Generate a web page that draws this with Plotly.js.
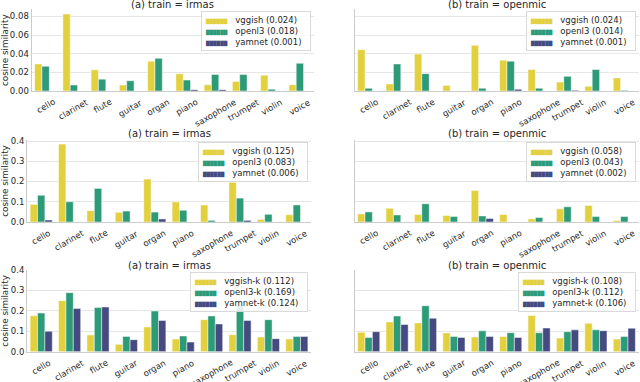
<!DOCTYPE html>
<html>
<head>
<meta charset="utf-8">
<script src="https://cdn.plot.ly/plotly-3.0.1.min.js"></script>
<style>
  html, body { margin: 0; padding: 0; background: #fff; }
  #myPlot { width: 640px; height: 382px; }
</style>
</head>
<body>
<div id="myPlot"></div>
<script>
// instruments on the x axis
var categories = ["cello", "clarinet", "flute", "guitar", "organ", "piano", "saxophone", "trumpet", "violin", "voice"];

var modelNames = ["vggish", "openl3", "yamnet"];
var modelNamesK = ["vggish-k", "openl3-k", "yamnet-k"];
var colors = ["#e3d03f", "#2d9a78", "#454a80"];

// row 1, (a) train = irmas
var r1aVggish = [0.029, 0.0825, 0.0227, 0.0064, 0.032, 0.0184, 0.0067, 0.0103, 0.017, 0.0067];
var r1aOpenl3 = [0.0265, 0.0064, 0.0127, 0.011, 0.035, 0.0117, 0.0177, 0.0177, 0.002, 0.0297];
var r1aYamnet = [0, 0, 0, 0, 0, 0.0014, 0.0014, 0, 0, 0];
var r1aMeans = [0.024, 0.018, 0.001];

// row 1, (b) train = openmic
var r1bVggish = [0.0443, 0.0075, 0.0396, 0.006, 0.049, 0.033, 0.023, 0.0096, 0.005, 0.014];
var r1bOpenl3 = [0.0029, 0.029, 0.0186, 0, 0.003, 0.032, 0.003, 0.0157, 0.023, 0.0007];
var r1bYamnet = [0, 0, 0, 0, 0, 0.0018, 0, 0.0007, 0, 0];
var r1bMeans = [0.024, 0.014, 0.001];

// row 2, (a) train = irmas
var r2aVggish = [0.087, 0.385, 0.056, 0.048, 0.212, 0.099, 0.084, 0.196, 0.013, 0.036];
var r2aOpenl3 = [0.132, 0.1, 0.166, 0.054, 0.049, 0.058, 0.008, 0.118, 0.038, 0.084];
var r2aYamnet = [0.01, 0, 0, 0, 0.015, 0, 0, 0.008, 0, 0];
var r2aMeans = [0.125, 0.083, 0.006];

// row 2, (b) train = openmic
var r2bVggish = [0.04, 0.068, 0.037, 0.032, 0.155, 0.037, 0.015, 0.065, 0.082, 0.007];
var r2bOpenl3 = [0.05, 0.035, 0.09, 0.027, 0.03, 0, 0.022, 0.075, 0.027, 0.027];
var r2bYamnet = [0, 0, 0, 0, 0.017, 0, 0, 0, 0, 0];
var r2bMeans = [0.058, 0.043, 0.002];

// row 3, (a) train = irmas
var r3aVggish = [0.176, 0.25, 0.082, 0.036, 0.121, 0.062, 0.157, 0.083, 0.072, 0.062];
var r3aOpenl3 = [0.189, 0.289, 0.216, 0.075, 0.199, 0.077, 0.175, 0.225, 0.157, 0.075];
var r3aYamnet = [0.1, 0.212, 0.219, 0.059, 0.153, 0.047, 0.136, 0.153, 0.064, 0.075];
var r3aMeans = [0.112, 0.169, 0.124];

// row 3, (b) train = openmic
var r3bVggish = [0.095, 0.146, 0.141, 0.092, 0.072, 0.075, 0.177, 0.067, 0.139, 0.062];
var r3bOpenl3 = [0.07, 0.175, 0.225, 0.075, 0.102, 0.093, 0.093, 0.098, 0.107, 0.075];
var r3bYamnet = [0.098, 0.133, 0.164, 0.07, 0.075, 0.07, 0.116, 0.107, 0.103, 0.115];
var r3bMeans = [0.108, 0.112, 0.106];

var panelTitles = ["(a) train = irmas", "(b) train = openmic"];

var panels = [
  {series: [r1aVggish, r1aOpenl3, r1aYamnet], names: modelNames, means: r1aMeans},
  {series: [r1bVggish, r1bOpenl3, r1bYamnet], names: modelNames, means: r1bMeans},
  {series: [r2aVggish, r2aOpenl3, r2aYamnet], names: modelNames, means: r2aMeans},
  {series: [r2bVggish, r2bOpenl3, r2bYamnet], names: modelNames, means: r2bMeans},
  {series: [r3aVggish, r3aOpenl3, r3aYamnet], names: modelNamesK, means: r3aMeans},
  {series: [r3bVggish, r3bOpenl3, r3bYamnet], names: modelNamesK, means: r3bMeans}
];

// layout in pixels (640 x 382), turned into paper fractions below
var W = 640, H = 382;
var colX = [[31.5, 314], [354.5, 638.5]];     // row 1 left column
var colX23 = [27, 311];                        // rows 2,3 left column
var rowY = [[9.4, 91], [140, 222], [270, 351.7]];
var yRanges = [[0, 0.0875], [0, 0.405], [0, 0.4]];
var yTicks = [{dtick: 0.02, fmt: ".2f"}, {dtick: 0.1, fmt: ".1f"}, {dtick: 0.1, fmt: ".1f"}];
var titleY = [5, 133, 265];

var textColor = "#262626";
var fontFam = "DejaVu Sans, sans-serif";

var data = [];
var layout = {
  width: W, height: H,
  margin: {l: 0, r: 0, t: 0, b: 0},
  paper_bgcolor: "#fff", plot_bgcolor: "#fff",
  font: {family: fontFam, color: textColor, size: 8.5},
  barmode: "group", bargap: 0.22, bargroupgap: 0,
  showlegend: false,
  annotations: []
};

for (var p = 0; p < panels.length; p++) {
  var row = Math.floor(p / 2), col = p % 2;
  var n = p + 1;
  var xa = "x" + (n === 1 ? "" : n), ya = "y" + (n === 1 ? "" : n);
  var xKey = "xaxis" + (n === 1 ? "" : n), yKey = "yaxis" + (n === 1 ? "" : n);

  for (var s = 0; s < 3; s++) {
    data.push({
      type: "bar", x: categories, y: panels[p].series[s],
      name: panels[p].names[s], xaxis: xa, yaxis: ya,
      marker: {color: colors[s], line: {color: "rgba(255,255,255,0.6)", width: 0.8}},
      hoverinfo: "x+y+name"
    });
  }

  var xs = (col === 0 && row > 0) ? colX23 : colX[col];
  layout[xKey] = {
    domain: [xs[0] / W, xs[1] / W], anchor: ya,
    range: [-0.5, categories.length - 0.5],
    showgrid: false, showticklabels: false, ticks: "",
    showline: true, linecolor: "#cccccc", linewidth: 1, fixedrange: true
  };
  var yax = {
    domain: [1 - rowY[row][1] / H, 1 - rowY[row][0] / H], anchor: xa,
    range: yRanges[row], dtick: yTicks[row].dtick, tick0: 0, tickformat: yTicks[row].fmt,
    showgrid: true, gridcolor: "#e6e6e6", gridwidth: 1, zeroline: false,
    showline: true, linecolor: "#cccccc", linewidth: 1, ticks: "",
    tickfont: {size: 8.5, color: textColor}, fixedrange: true
  };
  if (col === 0) {
    yax.title = {text: "cosine similarity", font: {size: 8.8, color: textColor}, standoff: 1};
  } else {
    yax.showticklabels = false;
    yax.matches = "y" + (n - 1 === 1 ? "" : n - 1);
  }
  layout[yKey] = yax;

  // panel title
  layout.annotations.push({
    text: panelTitles[col], xref: "paper", yref: "paper",
    x: (xs[0] + xs[1]) / 2 / W, y: 1 - titleY[row] / H,
    xanchor: "center", yanchor: "middle", showarrow: false,
    font: {size: 10, color: textColor}
  });

  // rotated category labels, centred under each group like matplotlib
  for (var c = 0; c < categories.length; c++) {
    layout.annotations.push({
      text: categories[c], xref: xa, yref: ya + " domain",
      x: categories[c], y: 0, xanchor: "center", yanchor: "top",
      yshift: -3, textangle: -30, showarrow: false,
      font: {size: 8.5, color: textColor}
    });
  }

  // legend box
  var lines = [];
  for (var s2 = 0; s2 < 3; s2++) {
    lines.push('<span style="font-size:4.6px;color:' + colors[s2] + '">\u2588\u2588\u2588\u2588\u2588\u2588</span>' +
      "\u00a0\u00a0\u00a0" + panels[p].names[s2] + " (" + panels[p].means[s2].toFixed(3) + ")\u00a0\u00a0");
  }
  layout.annotations.push({
    text: lines.join("<br>"), xref: xa + " domain", yref: ya + " domain",
    x: 1, y: 1, xanchor: "right", yanchor: "top", xshift: -3, yshift: -2,
    align: "left", showarrow: false,
    bgcolor: "rgba(255,255,255,0.85)", bordercolor: "#d9d9d9", borderwidth: 1, borderpad: 3,
    font: {size: 8.5, color: textColor}
  });
}

Plotly.newPlot("myPlot", data, layout, {staticPlot: true, displayModeBar: false});
</script>
</body>
</html>
